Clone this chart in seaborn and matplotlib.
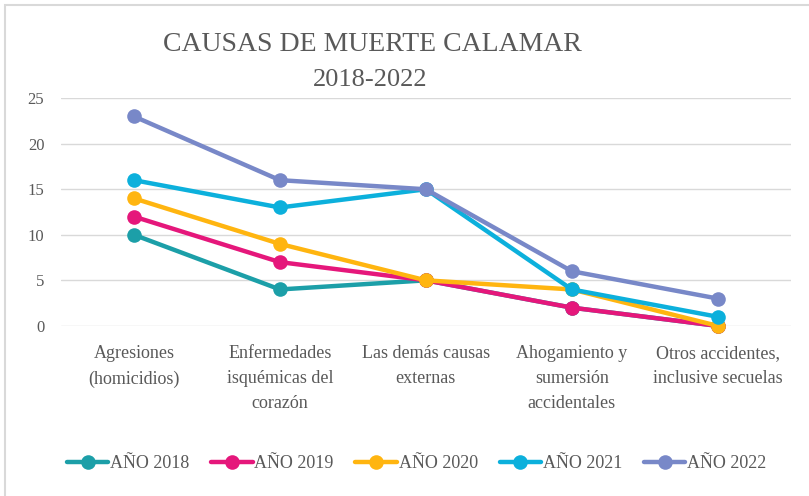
import pandas as pd
import matplotlib.pyplot as plt
import seaborn as sns
from matplotlib.patches import Rectangle

sns.set_theme(style="white")
plt.rcParams['font.family'] = ['Liberation Serif', 'DejaVu Serif']

# ---------------------------
# Data
# ---------------------------
causas = ["Agresiones\n(homicidios)",
          "Enfermedades\nisquémicas del\ncorazón",
          "Las demás causas\nexternas",
          "Ahogamiento y\nsumersión\naccidentales",
          "Otros accidentes,\ninclusive secuelas"]
anios = ["AÑO 2018", "AÑO 2019", "AÑO 2020", "AÑO 2021", "AÑO 2022"]
v2018 = [10, 4, 5, 2, 0]
v2019 = [12, 7, 5, 2, 0]
v2020 = [14, 9, 5, 4, 0]
v2021 = [16, 13, 15, 4, 1]
v2022 = [23, 16, 15, 6, 3]
colores = ["#1c9fa8", "#e5177b", "#ffb510", "#0cb0dc", "#7888c8"]

rows = []
for anio, vals in zip(anios, [v2018, v2019, v2020, v2021, v2022]):
    for c, v in zip(causas, vals):
        rows.append({"causa": c, "anio": anio, "valor": v})
df = pd.DataFrame(rows)

# ---------------------------
# Plot
# ---------------------------
fig = plt.figure(figsize=(8.09, 4.96), dpi=100)
ax = fig.add_axes([0.0754, 0.343, 0.902, 0.459])

sns.lineplot(data=df, x="causa", y="valor", hue="anio",
             palette=dict(zip(anios, colores)), marker="o",
             markersize=10.5, markeredgewidth=0, linewidth=3.2,
             sort=False, ax=ax, clip_on=False)

ax.set_xlim(-0.5, 4.5)
ax.set_ylim(0, 25)
ax.set_yticks([0, 5, 10, 15, 20, 25])
ax.yaxis.grid(True, color="#d9d9d9", linewidth=1)
for s in ax.spines.values():
    s.set_visible(False)
ax.set_xlabel("")
ax.set_ylabel("")
ax.tick_params(axis="y", labelsize=12, colors="#595959", pad=12, length=0)
ax.tick_params(axis="x", labelsize=13, colors="#595959", pad=14, length=0)
for lbl in ax.get_xticklabels():
    lbl.set_linespacing(1.6)

fig.text(0.46, 0.91, "CAUSAS DE MUERTE CALAMAR", ha="center", va="center",
         fontsize=20, color="#595959")
fig.text(0.457, 0.838, "2018-2022", ha="center", va="center",
         fontsize=19, color="#595959")

ax.legend(loc="center", ncol=5, frameon=False, fontsize=13, handlelength=2.3,
          handletextpad=0.1, columnspacing=1.2, labelcolor="#595959")
ax.get_legend().set_bbox_to_anchor((0.515, 0.065), transform=fig.transFigure)

fig.patches.append(Rectangle((0.006, -0.01), 1.0, 1.0, transform=fig.transFigure,
                             fill=False, edgecolor="#d9d9d9", linewidth=1.5))

plt.savefig("out.png", dpi=100)
